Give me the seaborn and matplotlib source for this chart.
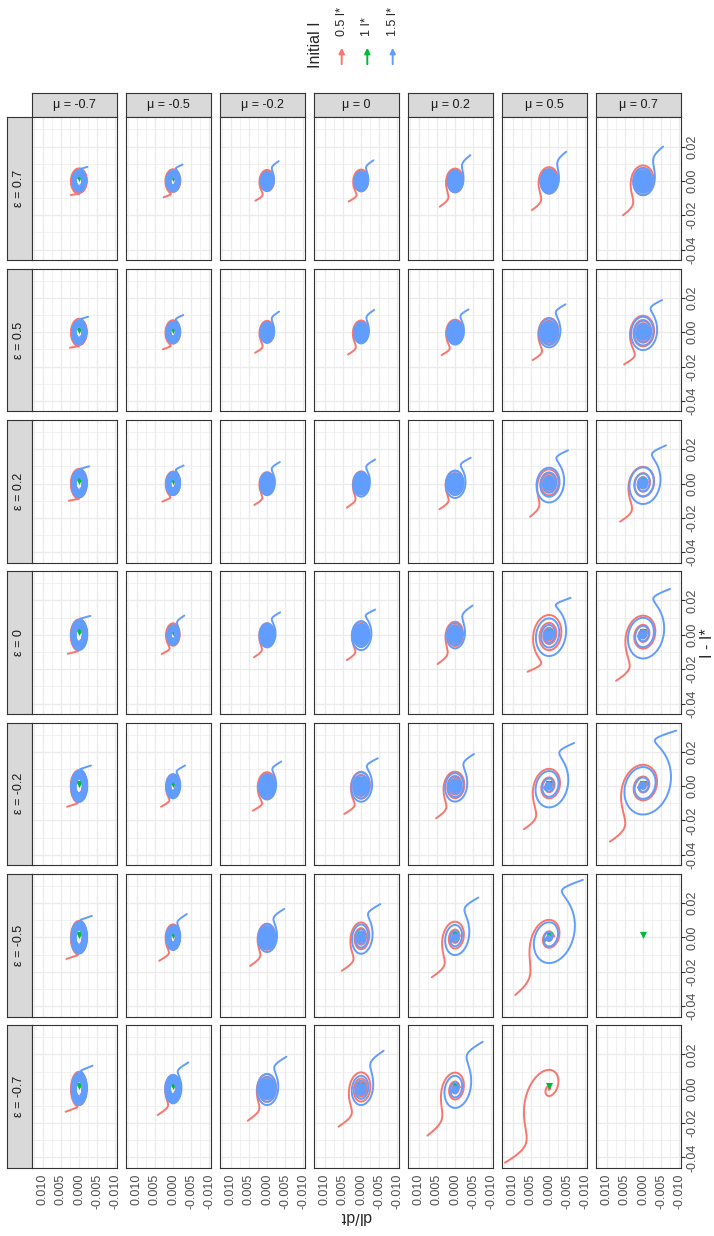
import numpy as np
import pandas as pd
import seaborn as sns
import matplotlib.pyplot as plt
from matplotlib.patches import FancyArrowPatch
from matplotlib.transforms import offset_copy

# ---------------------------------------------------------------- data
EPS = [0.7, 0.5, 0.2, 0, -0.2, -0.5, -0.7]        # facet rows (top -> bottom)
MU = [-0.7, -0.5, -0.2, 0, 0.2, 0.5, 0.7]         # facet columns (left -> right)
INIT_LEVELS = ["0.5 I*", "1 I*", "1.5 I*"]
COLORS = {"0.5 I*": "#F8766D", "1 I*": "#00BA38", "1.5 I*": "#619CFF"}
nan = np.nan

# red trajectory: starting I - I*
START_I = [
    [-0.0082, -0.0095, -0.0115, -0.0120, -0.0150, -0.0170, -0.0200],
    [-0.0090, -0.0100, -0.0120, -0.0130, -0.0133, -0.0162, -0.0187],
    [-0.0100, -0.0105, -0.0125, -0.0140, -0.0150, -0.0193, -0.0222],
    [-0.0110, -0.0112, -0.0131, -0.0147, -0.0170, -0.0215, -0.0267],
    [-0.0120, -0.0120, -0.0143, -0.0162, -0.0187, -0.0251, -0.0323],
    [-0.0125, -0.0136, -0.0166, -0.0194, -0.0232, -0.0335, nan],
    [-0.0134, -0.0153, -0.0186, -0.0221, -0.0273, -0.0430, nan],
]
# red trajectory: starting dI/dt
START_D = [
    [0.0023, 0.0026, 0.0032, 0.0034, 0.0042, 0.0047, 0.0055],
    [0.0025, 0.0028, 0.0033, 0.0036, 0.0037, 0.0045, 0.0052],
    [0.0028, 0.0029, 0.0035, 0.0039, 0.0043, 0.0052, 0.0063],
    [0.0031, 0.0031, 0.0036, 0.0039, 0.0048, 0.0059, 0.0074],
    [0.0033, 0.0033, 0.0039, 0.0046, 0.0052, 0.0069, 0.0091],
    [0.0035, 0.0038, 0.0047, 0.0053, 0.0064, 0.0093, nan],
    [0.0037, 0.0042, 0.0053, 0.0062, 0.0076, 0.0121, nan],
]
# first maximum of I - I* on the red spiral
PEAK_RED = [
    [0.0073, 0.0068, 0.0064, 0.0066, 0.0072, 0.0080, 0.0090],
    [0.0078, 0.0070, 0.0066, 0.0068, 0.0073, 0.0083, 0.0096],
    [0.0085, 0.0070, 0.0066, 0.0070, 0.0074, 0.0082, 0.0097],
    [0.0090, 0.0067, 0.0067, 0.0076, 0.0076, 0.0115, 0.0111],
    [0.0093, 0.0070, 0.0081, 0.0083, 0.0084, 0.0100, 0.0123],
    [0.0096, 0.0076, 0.0080, 0.0087, 0.0091, 0.0101, nan],
    [0.0099, 0.0080, 0.0086, 0.0095, 0.0093, 0.0105, nan],
]
# first minimum of I - I* on the blue spiral (magnitude)
PEAK_BLUE = [
    [0.0063, 0.0062, 0.0058, 0.0060, 0.0066, 0.0074, 0.0084],
    [0.0070, 0.0065, 0.0062, 0.0065, 0.0072, 0.0088, 0.0104],
    [0.0080, 0.0068, 0.0068, 0.0076, 0.0084, 0.0110, 0.0119],
    [0.0088, 0.0059, 0.0073, 0.0089, 0.0079, 0.0123, 0.0137],
    [0.0092, 0.0071, 0.0078, 0.0091, 0.0090, 0.0123, 0.0164],
    [0.0094, 0.0073, 0.0085, 0.0095, 0.0102, 0.0147, nan],
    [0.0095, 0.0085, 0.0095, 0.0095, 0.0111, nan, nan],
]
# loop frequency (ratio of dI/dt to I - I* amplitude)
OMEGA = [
    [0.30, 0.30, 0.31, 0.31, 0.32, 0.33, 0.34],
    [0.28, 0.29, 0.30, 0.31, 0.32, 0.33, 0.34],
    [0.26, 0.28, 0.30, 0.30, 0.32, 0.34, 0.35],
    [0.25, 0.28, 0.30, 0.30, 0.31, 0.33, 0.35],
    [0.24, 0.27, 0.30, 0.31, 0.33, 0.35, 0.37],
    [0.23, 0.26, 0.30, 0.29, 0.31, 0.35, nan],
    [0.22, 0.26, 0.30, 0.30, 0.31, 0.33, nan],
]
# amplitude kept after one loop
RHO = [
    [0.93, 0.90, 0.86, 0.85, 0.85, 0.84, 0.82],
    [0.93, 0.90, 0.86, 0.84, 0.83, 0.80, 0.74],
    [0.93, 0.90, 0.85, 0.82, 0.80, 0.70, 0.62],
    [0.93, 0.90, 0.84, 0.80, 0.75, 0.60, 0.52],
    [0.93, 0.90, 0.83, 0.78, 0.70, 0.50, 0.45],
    [0.93, 0.90, 0.82, 0.62, 0.50, 0.35, nan],
    [0.93, 0.90, 0.80, 0.62, 0.45, 0.15, nan],
]
# number of loops drawn by each trajectory
TURNS = [12, 10, 25, 25, 25, 25, 25]
# equilibrium (1 I*) drawn in the panel?
HAS_EQ = [
    [1, 1, 1, 1, 1, 1, 1],
    [1, 1, 1, 1, 1, 1, 1],
    [1, 1, 1, 1, 1, 1, 1],
    [1, 1, 1, 1, 1, 1, 1],
    [1, 1, 1, 1, 1, 1, 1],
    [1, 1, 1, 1, 1, 1, 1],
    [1, 1, 1, 1, 1, 1, 0],
]

DIDT_TICKS = [0.010, 0.005, 0.000, -0.005, -0.010]
DIDT_LABELS = ["0.010", "0.005", "0.000", "-0.005", "-0.010"]
IDIFF_TICKS = [-0.04, -0.02, 0.00, 0.02]
IDIFF_LABELS = ["-0.04", "-0.02", "0.00", "0.02"]

# ---------------------------------------------------------------- trajectories
PHASE0 = -3.634


def trajectory(x0, y0, peak, omega, rho, turns, per_turn=160):
    c = -np.log(rho) * omega / (2 * np.pi)
    r0 = peak * np.exp(c * (-PHASE0) / omega)
    d = x0 - r0 * np.cos(PHASE0)
    slope = r0 * (-c * np.cos(PHASE0) - omega * np.sin(PHASE0))
    lam = np.clip((slope - y0) / d, 0.3, 3.0) if abs(d) > 1e-6 else 1.0
    t = np.linspace(0, turns * 2 * np.pi / omega, int(turns * per_turn))
    ph = omega * t + PHASE0
    env = r0 * np.exp(-c * t)
    fast = d * np.exp(-lam * t)
    x = env * np.cos(ph) + fast
    y = env * (-c * np.cos(ph) - omega * np.sin(ph)) - lam * fast
    return x, y


frames = []
for i, eps in enumerate(EPS):
    for j, mu in enumerate(MU):
        x0, y0 = START_I[i][j], START_D[i][j]
        if np.isnan(x0):
            continue
        w, rho, turns = OMEGA[i][j], RHO[i][j], TURNS[j]
        x, y = trajectory(x0, y0, PEAK_RED[i][j], w, rho, turns)
        frames.append(pd.DataFrame({"eps": eps, "mu": mu, "init": "0.5 I*",
                                    "Idiff": x, "dIdt": y}))
        if not np.isnan(PEAK_BLUE[i][j]):
            x, y = trajectory(x0, y0, PEAK_BLUE[i][j], w, rho, turns)
            frames.append(pd.DataFrame({"eps": eps, "mu": mu, "init": "1.5 I*",
                                        "Idiff": -x, "dIdt": -y}))
df = pd.concat(frames, ignore_index=True)

# ---------------------------------------------------------------- figure
sns.set_theme(style="white")
plt.rcParams["font.family"] = ["Liberation Sans", "DejaVu Sans"]
plt.rcParams["axes.unicode_minus"] = False

W_PX, H_PX = 714, 1236
fig = plt.figure(figsize=(W_PX / 100, H_PX / 100), dpi=100)
fig.patch.set_facecolor("white")


def rect(left, top, w, h):
    return [left / W_PX, 1 - (top + h) / H_PX, w / W_PX, h / H_PX]


PW, PH = 85.6, 142.7
LEFT0, TOP0, DX, DY = 31.7, 117.3, 94.0, 151.3
XLIM = (0.0130, -0.0105)
YLIM = (-0.046, 0.037)


def strip(r, label, rot):
    sa = fig.add_axes(r)
    sa.set_facecolor("#D9D9D9")
    sa.set_xticks([])
    sa.set_yticks([])
    for s in sa.spines.values():
        s.set_color("#333333")
        s.set_linewidth(0.8)
    sa.text(0.5, 0.5, label, rotation=rot, ha="center", va="center",
            fontsize=9, color="#1A1A1A", transform=sa.transAxes)


for j, mu in enumerate(MU):
    strip(rect(LEFT0 + j * DX, 92.7, PW, 24.6), f"μ = {mu:g}", 0)
for i, eps in enumerate(EPS):
    strip(rect(6.7, TOP0 + i * DY, 25.0, PH), f"ε = {eps:g}", 90)

for i, eps in enumerate(EPS):
    for j, mu in enumerate(MU):
        ax = fig.add_axes(rect(LEFT0 + j * DX, TOP0 + i * DY, PW, PH))
        ax.set_facecolor("white")
        ax.set_axisbelow(True)
        panel = df[(df["eps"] == eps) & (df["mu"] == mu)]
        for lvl in INIT_LEVELS:
            if lvl == "1 I*":
                if HAS_EQ[i][j]:
                    tr = offset_copy(ax.transData, fig=fig, y=1.8, units="points")
                    ax.scatter([0], [0], marker="v", s=26, color=COLORS[lvl],
                               linewidths=0, transform=tr, zorder=2)
                continue
            sub = panel[panel["init"] == lvl]
            if sub.empty:
                continue
            sns.lineplot(data=sub, x="dIdt", y="Idiff", sort=False, estimator=None,
                         color=COLORS[lvl], linewidth=1.4, ax=ax, zorder=2)
            xe, ye = sub["dIdt"].values, sub["Idiff"].values
            ax.annotate("", xy=(xe[-1], ye[-1]), xytext=(xe[-4], ye[-4]),
                        arrowprops=dict(arrowstyle="-|>", color=COLORS[lvl],
                                        lw=1.2, mutation_scale=6,
                                        shrinkA=0, shrinkB=0), zorder=2)
        ax.set_xlim(*XLIM)
        ax.set_ylim(*YLIM)
        ax.set_xlabel("")
        ax.set_ylabel("")
        ax.set_xticks(DIDT_TICKS)
        ax.set_xticks([0.0125, 0.0075, 0.0025, -0.0025, -0.0075], minor=True)
        ax.set_yticks(IDIFF_TICKS)
        ax.set_yticks([-0.03, -0.01, 0.01, 0.03], minor=True)
        ax.grid(which="major", color="#EBEBEB", linewidth=1.0)
        ax.grid(which="minor", color="#EBEBEB", linewidth=0.5)
        for s in ax.spines.values():
            s.set_color("#333333")
            s.set_linewidth(0.8)
        ax.tick_params(which="minor", length=0)
        ax.yaxis.tick_right()
        bottom = i == len(EPS) - 1
        right = j == len(MU) - 1
        ax.tick_params(axis="x", which="major", length=2.6 if bottom else 0,
                       width=0.8, color="#333333", pad=1.5,
                       labelbottom=bottom, labelsize=9, labelcolor="#4D4D4D")
        ax.tick_params(axis="y", which="major", length=2.6 if right else 0,
                       width=0.8, color="#333333", pad=1.5,
                       labelright=right, labelleft=False, labelsize=9,
                       labelcolor="#4D4D4D")
        if bottom:
            ax.set_xticklabels(DIDT_LABELS, rotation=90, ha="center", va="top")
        if right:
            ax.set_yticklabels(IDIFF_LABELS, rotation=90, ha="left", va="center")

# axis titles
fig.text(708 / W_PX, 1 - 643 / H_PX, "I - I*", rotation=90, ha="center",
         va="center", fontsize=11.5)
fig.text(356 / W_PX, 1 - 1217 / H_PX, "dI/dt", rotation=180, ha="center",
         va="center", fontsize=11.5)

# legend
fig.text(316 / W_PX, 1 - 68 / H_PX, "Initial I", rotation=90, ha="center",
         va="bottom", fontsize=11.5)
for k, lvl in enumerate(INIT_LEVELS):
    xk = [341.7, 367.3, 392.7][k] / W_PX
    fig.add_artist(FancyArrowPatch((xk, 1 - 67 / H_PX), (xk, 1 - 45 / H_PX),
                                   transform=fig.transFigure, arrowstyle="-|>",
                                   mutation_scale=8, lw=1.4, color=COLORS[lvl]))
    fig.text(xk, 1 - 36 / H_PX, lvl, rotation=90, ha="center", va="bottom",
             fontsize=9)

fig.savefig("out.png", dpi=100, facecolor="white")
